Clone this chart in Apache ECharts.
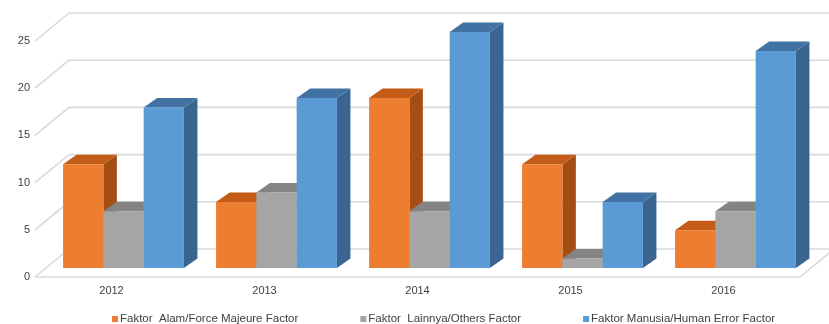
<!DOCTYPE html>
<html><head><meta charset="utf-8">
<script src="https://cdn.jsdelivr.net/npm/echarts@6/dist/echarts.min.js"></script>
<style>html,body{margin:0;padding:0;background:#fff}#c{width:829px;height:324px}</style>
</head><body><div id="c"></div>
<script>
const categories = ['2012', '2013', '2014', '2015', '2016'];
const seriesNames = ['Faktor  Alam/Force Majeure Factor', 'Faktor  Lainnya/Others Factor', 'Faktor Manusia/Human Error Factor'];
const alam = [11, 7, 18, 11, 4];
const lainnya = [6, 8, 6, 1, 6];
const manusia = [17, 18, 25, 7, 23];
const yTicks = [0, 5, 10, 15, 20, 25];

const palettes = [
  { front: '#ED7D31', top: '#C45B16', side: '#A54E14' },
  { front: '#A5A5A5', top: '#848484', side: '#6E6E6E' },
  { front: '#5B9BD5', top: '#4172A3', side: '#3A6590' }
];
const FRONT = [-12, 9], BACK = [22, -19];
const DX = 13.5, DY = -9.5;
const GRID = '#D9D9D9';
const FONT = 'Liberation Sans';

function barRenderer(idx) {
  const p = palettes[idx];
  return function (params, api) {
    const cat = api.value(0), v = api.value(1);
    const band = api.size([1, 0])[0];
    const groupW = band * 0.79;
    const bw = groupW / 3;
    const c0 = api.coord([cat, 0]);
    const c1 = api.coord([cat, v]);
    const x0 = c0[0] - groupW / 2 + idx * bw, x1 = x0 + bw;
    const yb = c0[1], yt = c1[1];
    return {
      type: 'group', children: [
        { type: 'polygon', shape: { points: [[x1, yb], [x1 + DX, yb + DY], [x1 + DX, yt + DY], [x1, yt]] }, style: { fill: p.side } },
        { type: 'polygon', shape: { points: [[x0, yt], [x0 + DX, yt + DY], [x1 + DX, yt + DY], [x1, yt]] }, style: { fill: p.top } },
        { type: 'rect', shape: { x: x0, y: yt, width: bw, height: yb - yt }, style: { fill: p.front } }
      ]
    };
  };
}

function wallRenderer(params, api) {
  const cs = params.coordSys;
  const L = cs.x, R = cs.x + cs.width;
  const children = [];
  const ls = { stroke: GRID, lineWidth: 1.6 };
  yTicks.forEach(function (t) {
    const y = api.coord([0, t])[1];
    children.push({ type: 'line', shape: { x1: L + BACK[0], y1: y + BACK[1], x2: R + BACK[0], y2: y + BACK[1] }, style: ls });
    children.push({ type: 'line', shape: { x1: L + FRONT[0], y1: y + FRONT[1], x2: L + BACK[0], y2: y + BACK[1] }, style: ls });
  });
  const y0 = api.coord([0, 0])[1];
  children.push({ type: 'line', shape: { x1: L + FRONT[0], y1: y0 + FRONT[1], x2: R + FRONT[0], y2: y0 + FRONT[1] }, style: ls });
  children.push({ type: 'line', shape: { x1: R + FRONT[0], y1: y0 + FRONT[1], x2: R + BACK[0], y2: y0 + BACK[1] }, style: ls });
  return { type: 'group', children: children };
}

const dataSets = [alam, lainnya, manusia];
const series = [{
  type: 'custom', name: 'walls', silent: true, z: 1,
  xAxisIndex: 0, yAxisIndex: 0,
  data: [[0, 0]], encode: { x: 0, y: 1 }, renderItem: wallRenderer
}];
dataSets.forEach(function (arr, i) {
  series.push({
    type: 'custom', name: seriesNames[i], z: 2 + i,
    xAxisIndex: 0, yAxisIndex: 0,
    itemStyle: { color: palettes[i].front },
    data: arr.map(function (v, k) { return [k, v]; }),
    encode: { x: 0, y: 1 },
    renderItem: barRenderer(i)
  });
});

const labelStyle = { color: '#404040', fontSize: 11, fontFamily: FONT };
const chart = echarts.init(document.getElementById('c'), null, { renderer: 'canvas' });
chart.setOption({
  animation: false,
  grid: [
    { left: 47, right: 17, top: 32, bottom: 56 },
    { left: 47, right: 17, top: 41, bottom: 47 }
  ],
  xAxis: [{
    type: 'category', data: categories, gridIndex: 0,
    axisLine: { show: false }, axisTick: { show: false },
    axisLabel: Object.assign({ margin: 17, padding: [0, 24, 0, 0] }, labelStyle),
    splitLine: { show: false }
  }, {
    type: 'category', data: categories, gridIndex: 1, show: false
  }],
  yAxis: [{
    type: 'value', min: 0, max: 25, interval: 5, gridIndex: 0,
    axisLine: { show: false }, axisTick: { show: false }, splitLine: { show: false },
    axisLabel: { show: false }
  }, {
    type: 'value', min: 0, max: 25, interval: 5, gridIndex: 1,
    axisLine: { show: false }, axisTick: { show: false }, splitLine: { show: false },
    axisLabel: Object.assign({ margin: 17 }, labelStyle)
  }],
  legend: {
    data: seriesNames.map(function (n) { return { name: n, icon: 'rect' }; }),
    left: 107, top: 308, itemWidth: 6, itemHeight: 6, itemGap: 62,
    textStyle: { color: '#404040', fontSize: 11.5, fontFamily: FONT, padding: [0, 0, 0, -3] }
  },
  series: series
});
</script>
</body></html>
